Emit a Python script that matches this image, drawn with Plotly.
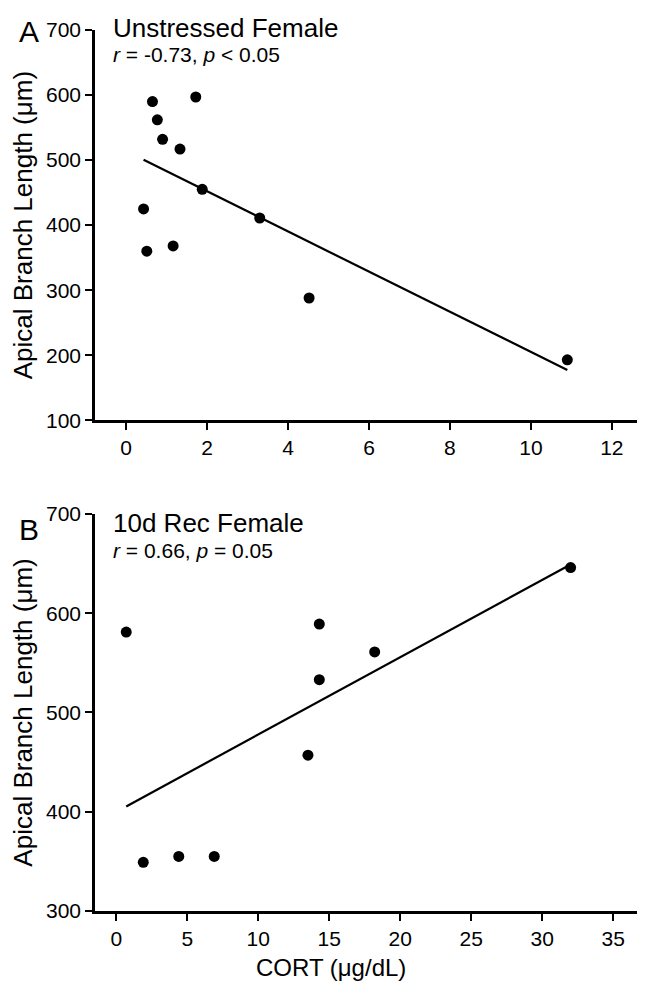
import numpy as np
import plotly.graph_objects as go

# Panel A: Unstressed Female
a_cort = [0.65, 1.72, 0.77, 0.90, 1.33, 1.88, 0.43, 3.30, 0.51, 1.16, 4.52, 10.9]
a_len = [590, 597, 562, 532, 517, 455, 425, 411, 360, 368, 288, 193]

# Panel B: 10d Rec Female
b_cort = [0.7, 14.3, 18.2, 14.3, 13.5, 32.0, 1.9, 4.4, 6.9]
b_len = [581, 589, 561, 533, 457, 646, 349, 355, 355]

a_xticks = [0, 2, 4, 6, 8, 10, 12]
a_yticks = [100, 200, 300, 400, 500, 600, 700]
b_xticks = [0, 5, 10, 15, 20, 25, 30, 35]
b_yticks = [300, 400, 500, 600, 700]

a_title = "Unstressed Female"
a_stats = "<i>r</i> = -0.73, <i>p</i> < 0.05"
b_title = "10d Rec Female"
b_stats = "<i>r</i> = 0.66, <i>p</i> = 0.05"

FONT = "Liberation Sans, Arial, sans-serif"


def fit_line(x, y):
    m, c = np.polyfit(x, y, 1)
    xs = np.array([min(x), max(x)])
    return xs, m * xs + c


fig = go.Figure()
ax, ay = fit_line(a_cort, a_len)
bx, by = fit_line(b_cort, b_len)

fig.add_trace(go.Scatter(x=ax, y=ay, mode="lines", line=dict(color="black", width=2.2),
                         xaxis="x", yaxis="y", showlegend=False))
fig.add_trace(go.Scatter(x=a_cort, y=a_len, mode="markers",
                         marker=dict(color="black", size=11), xaxis="x", yaxis="y", showlegend=False))
fig.add_trace(go.Scatter(x=bx, y=by, mode="lines", line=dict(color="black", width=2.2),
                         xaxis="x2", yaxis="y2", showlegend=False))
fig.add_trace(go.Scatter(x=b_cort, y=b_len, mode="markers",
                         marker=dict(color="black", size=11), xaxis="x2", yaxis="y2", showlegend=False))

axis_common = dict(showline=True, linecolor="black", linewidth=2.5, ticks="outside",
                   ticklen=7, tickwidth=2, tickcolor="black", showgrid=False, zeroline=False,
                   tickfont=dict(family=FONT, size=21, color="black"))

ytitle = dict(text="Apical Branch Length (μm)", font=dict(family=FONT, size=26, color="black"),
              standoff=7)

fig.update_layout(
    width=645, height=981,
    paper_bgcolor="white", plot_bgcolor="white",
    margin=dict(l=87, r=10, t=20, b=78),
    xaxis=dict(domain=[0, 1], range=[-0.77, 12.77], tickvals=a_xticks, anchor="y", **axis_common),
    yaxis=dict(domain=[0.557, 1.0], range=[100, 700], tickvals=a_yticks, anchor="x",
               title=ytitle, **axis_common),
    xaxis2=dict(domain=[0, 1], range=[-1.5, 37.1], tickvals=b_xticks, anchor="y2", **axis_common),
    yaxis2=dict(domain=[0, 0.4507], range=[300, 700], tickvals=b_yticks, anchor="x2",
                title=ytitle, **axis_common),
)


def header(title, stats):
    return ("<span style='font-size:26px'>" + title + "</span><br>"
            "<span style='font-size:21px'>" + stats + "</span>")


annots = [
    dict(text="A", xref="paper", yref="paper", x=-0.142, y=1.0198, xanchor="left", yanchor="top",
         showarrow=False, font=dict(family=FONT, size=30, color="black")),
    dict(text="B", xref="paper", yref="paper", x=-0.142, y=0.4535, xanchor="left", yanchor="top",
         showarrow=False, font=dict(family=FONT, size=30, color="black")),
    dict(text=header(a_title, a_stats), xref="paper", yref="paper", x=0.03, y=1.0216,
         xanchor="left", yanchor="top", align="left", showarrow=False,
         font=dict(family=FONT, size=19.5, color="black")),
    dict(text=header(b_title, b_stats), xref="paper", yref="paper", x=0.03, y=0.4598,
         xanchor="left", yanchor="top", align="left", showarrow=False,
         font=dict(family=FONT, size=20, color="black")),
    dict(text="CORT (μg/dL)", xref="paper", yref="paper", x=0.43, y=-0.0646,
         xanchor="center", yanchor="middle", showarrow=False,
         font=dict(family=FONT, size=24, color="black")),
]
fig.update_layout(annotations=annots)

fig.write_html("out.html")
